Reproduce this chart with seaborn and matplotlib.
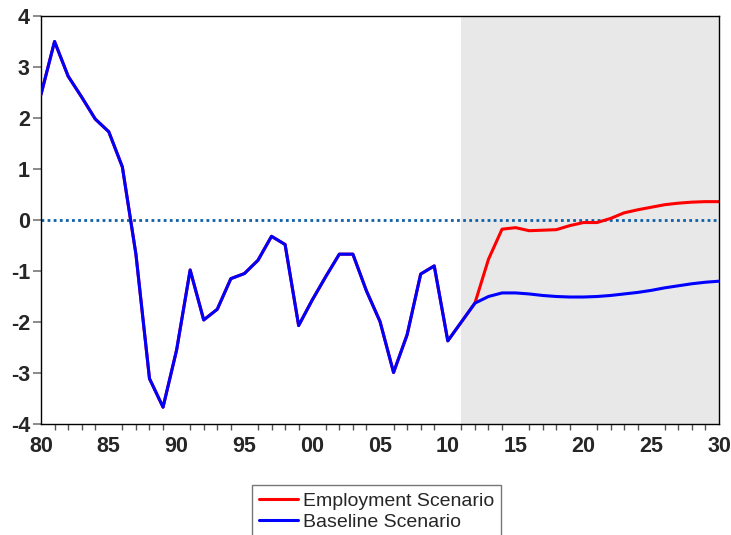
import numpy as np
import pandas as pd
import matplotlib.pyplot as plt
import seaborn as sns

# Years 1980-2030 and the two scenario series
hist_years = list(range(1980, 2013))
hist_values = [2.46, 3.50, 2.82, 2.41, 1.98, 1.73, 1.04, -0.67, -3.11, -3.67,
               -2.55, -0.98, -1.96, -1.75, -1.15, -1.05, -0.79, -0.32, -0.48, -2.07,
               -1.57, -1.11, -0.67, -0.67, -1.39, -1.99, -2.99, -2.25, -1.06, -0.90,
               -2.37, -2.00, -1.63]

proj_years = list(range(2012, 2031))
employment_proj = [-1.63, -0.77, -0.18, -0.15, -0.21, -0.20, -0.19, -0.11, -0.05, -0.05,
                   0.03, 0.14, 0.20, 0.25, 0.30, 0.33, 0.35, 0.36, 0.36]
baseline_proj = [-1.63, -1.50, -1.43, -1.43, -1.45, -1.48, -1.50, -1.51, -1.51, -1.50,
                 -1.48, -1.45, -1.42, -1.38, -1.33, -1.29, -1.25, -1.22, -1.20]

forecast_start = 2011
x_ticks = list(range(1980, 2031, 5))
x_labels = ["80", "85", "90", "95", "00", "05", "10", "15", "20", "25", "30"]
y_ticks = [-4, -3, -2, -1, 0, 1, 2, 3, 4]
y_labels = ["-4", "-3", "-2", "-1", "0", "1", "2", "3", "4"]

employment = pd.DataFrame({"year": hist_years + proj_years[1:],
                           "value": hist_values + employment_proj[1:]})
baseline = pd.DataFrame({"year": hist_years + proj_years[1:],
                         "value": hist_values + baseline_proj[1:]})

sns.set_style("white")
plt.rcParams['font.family'] = ['Liberation Sans', 'DejaVu Sans']
plt.rcParams['axes.unicode_minus'] = False

fig = plt.figure(figsize=(7.31, 5.35), dpi=100)
ax = fig.add_axes([41 / 731, 1 - 424 / 535, 678 / 731, 408 / 535])

ax.axvspan(forecast_start, 2030, color="#e8e8e8", lw=0, zorder=0)
ax.axhline(0, color="#1060a8", lw=2, ls=(0, (1, 1.2)), zorder=1)

sns.lineplot(data=employment, x="year", y="value", color="#ff0000", lw=2.2,
             label="Employment Scenario", ax=ax, zorder=2)
sns.lineplot(data=baseline, x="year", y="value", color="#0000ff", lw=2.2,
             label="Baseline Scenario", ax=ax, zorder=3)

ax.set_xlim(1980, 2030)
ax.set_ylim(-4, 4)
ax.set_xticks(x_ticks)
ax.set_xticklabels(x_labels, fontweight="bold", fontsize=15.5)
ax.set_xticks(range(1980, 2031), minor=True)
ax.set_yticks(y_ticks)
ax.set_yticklabels(y_labels, fontweight="bold", fontsize=15.5)
ax.set_xlabel("")
ax.set_ylabel("")

ax.tick_params(axis="x", which="major", direction="out", length=9, width=1,
               color="#555555", pad=0)
ax.tick_params(axis="x", which="minor", direction="out", length=4, width=1,
               color="#555555", bottom=True)
ax.tick_params(axis="y", which="major", direction="out", length=6, width=1.2,
               color="#777777", pad=2, left=True)

for sp in ax.spines.values():
    sp.set_color("black")
    sp.set_linewidth(1)

leg = ax.legend(loc="upper center", bbox_to_anchor=(0.495, -0.15), ncol=1,
                fontsize=14, frameon=True, fancybox=False, handlelength=2.0,
                borderpad=0.35, labelspacing=0.2, handletextpad=0.3,
                borderaxespad=0)
leg.get_frame().set_edgecolor("#555555")
leg.get_frame().set_linewidth(1)

fig.savefig("out.png", dpi=100)
